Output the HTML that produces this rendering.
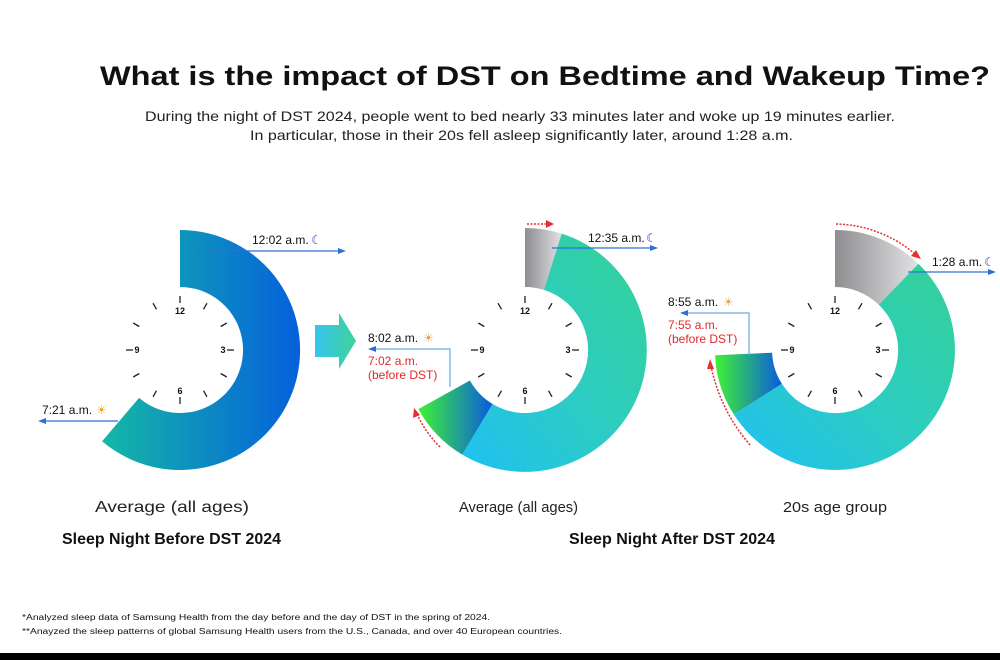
<!DOCTYPE html>
<html><head><meta charset="utf-8"><style>
html,body{margin:0;padding:0;background:#fff;}
svg{display:block;font-family:"Liberation Sans",sans-serif;}
</style></head><body>
<svg width="1000" height="660" viewBox="0 0 1000 660" xmlns="http://www.w3.org/2000/svg">
<defs>
<linearGradient id="gL" x1="0" x2="1" y1="0" y2="0"><stop offset="0" stop-color="#14b8a6"/><stop offset="1" stop-color="#0560dc"/></linearGradient>
<linearGradient id="gT" x1="0" x2="1" y1="1" y2="0"><stop offset="0" stop-color="#1fc0f2"/><stop offset="0.5" stop-color="#2dcdc0"/><stop offset="1" stop-color="#34d196"/></linearGradient>
<linearGradient id="gG" x1="0" x2="1"><stop offset="0" stop-color="#8e8e92"/><stop offset="1" stop-color="#e2e2e4"/></linearGradient>
<linearGradient id="gN" x1="0" x2="1"><stop offset="0" stop-color="#3ff234"/><stop offset="1" stop-color="#0a5ae0"/></linearGradient>
<linearGradient id="gA" x1="0" x2="1"><stop offset="0" stop-color="#36c4ec"/><stop offset="1" stop-color="#3ed39a"/></linearGradient>
<g id="clock" stroke="#222" stroke-width="1.3">
<line x1="0" y1="-47" x2="0" y2="-54"/>
<line x1="0" y1="-47" x2="0" y2="-54" transform="rotate(30)"/>
<line x1="0" y1="-47" x2="0" y2="-54" transform="rotate(60)"/>
<line x1="0" y1="-47" x2="0" y2="-54" transform="rotate(90)"/>
<line x1="0" y1="-47" x2="0" y2="-54" transform="rotate(120)"/>
<line x1="0" y1="-47" x2="0" y2="-54" transform="rotate(150)"/>
<line x1="0" y1="-47" x2="0" y2="-54" transform="rotate(180)"/>
<line x1="0" y1="-47" x2="0" y2="-54" transform="rotate(210)"/>
<line x1="0" y1="-47" x2="0" y2="-54" transform="rotate(240)"/>
<line x1="0" y1="-47" x2="0" y2="-54" transform="rotate(270)"/>
<line x1="0" y1="-47" x2="0" y2="-54" transform="rotate(300)"/>
<line x1="0" y1="-47" x2="0" y2="-54" transform="rotate(330)"/>
<g stroke="none" fill="#111" font-size="9" font-weight="bold" text-anchor="middle">
<text x="0" y="-36">12</text><text x="43" y="3">3</text><text x="0" y="44">6</text><text x="-43" y="3">9</text>
</g></g>
</defs>

<text x="100" y="85" font-size="27" font-weight="bold" fill="#111" textLength="890" lengthAdjust="spacingAndGlyphs">What is the impact of DST on Bedtime and Wakeup Time?</text>
<text x="145" y="121" font-size="14" fill="#222" textLength="750" lengthAdjust="spacingAndGlyphs">During the night of DST 2024, people went to bed nearly 33 minutes later and woke up 19 minutes earlier.</text>
<text x="250" y="140" font-size="14" fill="#222" textLength="543" lengthAdjust="spacingAndGlyphs">In particular, those in their 20s fell asleep significantly later, around 1:28 a.m.</text>

<!-- left -->
<path d="M180,230 A120,120 0 1 1 102.1,441.2 L139.1,397.9 A63,63 0 1 0 180,287 Z" fill="url(#gL)"/>
<use href="#clock" transform="translate(180,350)"/>
<line x1="205" y1="251" x2="340" y2="251" stroke="#2e6fd6" stroke-width="1.2"/><path d="M346,251 L338,248 L338,254Z" fill="#2e6fd6"/>
<text x="252" y="244" font-size="12" fill="#111">12:02 a.m.</text><text x="311" y="244" font-size="12" fill="#3a2fd0">☾</text>
<line x1="118" y1="421" x2="44" y2="421" stroke="#2e6fd6" stroke-width="1.2"/><path d="M38,421 L46,418 L46,424Z" fill="#2e6fd6"/>
<text x="42" y="414" font-size="12" fill="#111">7:21 a.m.</text><text x="96" y="414" font-size="12" fill="#f5a020">☀</text>

<!-- arrow -->
<path d="M315,325 L339,325 L339,313 L356,341 L339,369 L339,357 L315,357 Z" fill="url(#gA)"/>

<!-- middle -->
<path d="M525,228 A122,122 0 0 1 561.7,233.6 L543.9,289.9 A63,63 0 0 0 525,287 Z" fill="url(#gG)"/>
<path d="M561.7,233.6 A122,122 0 1 1 462.2,454.6 L492.6,404.0 A63,63 0 1 0 543.9,289.9 Z" fill="url(#gT)"/>
<path d="M462.2,454.6 A122,122 0 0 1 418.3,409.1 L469.9,380.5 A63,63 0 0 0 492.6,404.0 Z" fill="url(#gN)"/>
<use href="#clock" transform="translate(525,350)"/>
<line x1="527" y1="224" x2="548" y2="224" stroke="#e53030" stroke-width="1.5" stroke-dasharray="2,1.5"/><path d="M554,224 L546,220 L546,228Z" fill="#e53030"/>
<line x1="552" y1="248" x2="652" y2="248" stroke="#2e6fd6" stroke-width="1.2"/><path d="M658,248 L650,245 L650,251Z" fill="#2e6fd6"/>
<text x="588" y="242" font-size="12" fill="#111">12:35 a.m.</text><text x="646" y="242" font-size="12" fill="#3a2fd0">☾</text>
<path d="M450,387 L450,349 L374,349" fill="none" stroke="#6aa6e0" stroke-width="1.2"/><path d="M368,349 L376,346 L376,352Z" fill="#2e6fd6"/>
<text x="368" y="342" font-size="12" fill="#111">8:02 a.m.</text><text x="423" y="342" font-size="12" fill="#f5a020">☀</text>
<text x="368" y="365" font-size="12" fill="#e02828">7:02 a.m.</text>
<text x="368" y="379" font-size="12" fill="#e02828">(before DST)</text>
<path d="M440,447 Q425,432 417,414" fill="none" stroke="#e53030" stroke-width="1.5" stroke-dasharray="2,1.5"/><path d="M414,408 L413,418 L420,415Z" fill="#e53030"/>

<!-- right -->
<path d="M835,230 A120,120 0 0 1 918.4,263.7 L878.8,304.7 A63,63 0 0 0 835,287 Z" fill="url(#gG)"/>
<path d="M918.4,263.7 A120,120 0 1 1 733.8,414.5 L781.9,383.8 A63,63 0 1 0 878.8,304.7 Z" fill="url(#gT)"/>
<path d="M733.8,414.5 A120,120 0 0 1 715.1,355.2 L772.1,352.7 A63,63 0 0 0 781.9,383.8 Z" fill="url(#gN)"/>
<use href="#clock" transform="translate(835,350)"/>
<path d="M836,224 A126,126 0 0 1 915,254" fill="none" stroke="#e53030" stroke-width="1.5" stroke-dasharray="2,1.5"/><path d="M921,259 L911,256 L916,250Z" fill="#e53030"/>
<line x1="908" y1="272" x2="990" y2="272" stroke="#2e6fd6" stroke-width="1.2"/><path d="M996,272 L988,269 L988,275Z" fill="#2e6fd6"/>
<text x="932" y="266" font-size="12" fill="#111">1:28 a.m.</text><text x="984" y="266" font-size="12" fill="#3a2fd0">☾</text>
<path d="M749,355 L749,313 L686,313" fill="none" stroke="#6aa6e0" stroke-width="1.2"/><path d="M680,313 L688,310 L688,316Z" fill="#2e6fd6"/>
<text x="668" y="306" font-size="12" fill="#111">8:55 a.m.</text><text x="723" y="306" font-size="12" fill="#f5a020">☀</text>
<text x="668" y="329" font-size="12" fill="#e02828">7:55 a.m.</text>
<text x="668" y="343" font-size="12" fill="#e02828">(before DST)</text>
<path d="M750,445 Q720,410 711,366" fill="none" stroke="#e53030" stroke-width="1.5" stroke-dasharray="2,1.5"/><path d="M710,359 L707,369 L714,369Z" fill="#e53030"/>

<text x="95" y="512" font-size="16" fill="#222" textLength="154" lengthAdjust="spacingAndGlyphs">Average (all ages)</text>
<text x="62" y="544" font-size="16" font-weight="bold" fill="#111" textLength="219" lengthAdjust="spacingAndGlyphs">Sleep Night Before DST 2024</text>
<text x="459" y="512" font-size="15" fill="#222" textLength="119" lengthAdjust="spacingAndGlyphs">Average (all ages)</text>
<text x="783" y="512" font-size="15" fill="#222" textLength="104" lengthAdjust="spacingAndGlyphs">20s age group</text>
<text x="569" y="544" font-size="16" font-weight="bold" fill="#111" textLength="206" lengthAdjust="spacingAndGlyphs">Sleep Night After DST 2024</text>

<text x="22" y="620" font-size="8" fill="#111" textLength="468" lengthAdjust="spacingAndGlyphs">*Analyzed sleep data of Samsung Health from the day before and the day of DST in the spring of 2024.</text>
<text x="22" y="634" font-size="8" fill="#111" textLength="540" lengthAdjust="spacingAndGlyphs">**Anayzed the sleep patterns of global Samsung Health users from the U.S., Canada, and over 40 European countries.</text>
<rect x="0" y="653" width="1000" height="7" fill="#000"/>
</svg>
</body></html>
